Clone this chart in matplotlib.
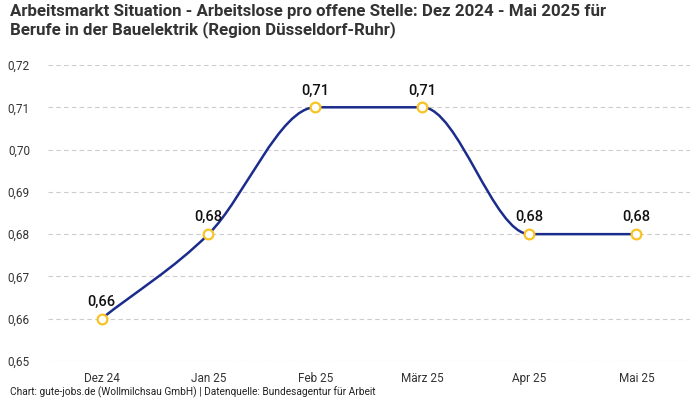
import numpy as np
import matplotlib.pyplot as plt
from matplotlib.path import Path
from matplotlib.patches import PathPatch

months = ['Dez 24', 'Jan 25', 'Feb 25', 'März 25', 'Apr 25', 'Mai 25']
values = [0.66, 0.68, 0.71, 0.71, 0.68, 0.68]
y_ticks = [0.65, 0.66, 0.67, 0.68, 0.69, 0.70, 0.71, 0.72]

title = ('Arbeitsmarkt Situation - Arbeitslose pro offene Stelle: Dez 2024 - Mai 2025 für\n'
         'Berufe in der Bauelektrik (Region Düsseldorf-Ruhr)')
source = 'Chart: gute-jobs.de (Wollmilchsau GmbH) | Datenquelle: Bundesagentur für Arbeit'

LINE = '#1b2c8c'
DOT = '#f7c325'
plt.rcParams['font.family'] = ['Roboto', 'DejaVu Sans']


def monotone_path(x, y):
    # monotone cubic (Fritsch-Carlson) drawn as bezier segments
    x = np.asarray(x, float)
    y = np.asarray(y, float)
    d = np.diff(y) / np.diff(x)
    m = np.zeros_like(y)
    m[0], m[-1] = d[0], d[-1]
    for i in range(1, len(y) - 1):
        m[i] = 0 if d[i - 1] * d[i] <= 0 else (d[i - 1] + d[i]) / 2
    for i in range(len(d)):
        if d[i] == 0:
            m[i] = m[i + 1] = 0
            continue
        a, b = m[i] / d[i], m[i + 1] / d[i]
        s = a * a + b * b
        if s > 9:
            t = 3 / np.sqrt(s)
            m[i], m[i + 1] = t * a * d[i], t * b * d[i]
    verts = [(x[0], y[0])]
    codes = [Path.MOVETO]
    for i in range(len(d)):
        h = (x[i + 1] - x[i]) / 3
        verts += [(x[i] + h, y[i] + m[i] * h),
                  (x[i + 1] - h, y[i + 1] - m[i + 1] * h),
                  (x[i + 1], y[i + 1])]
        codes += [Path.CURVE4] * 3
    return Path(verts, codes)


fig = plt.figure(figsize=(7, 4), dpi=100)
ax = fig.add_axes([0.0686, 0.0975, 0.917, 0.74])

xs = np.arange(len(months))
ax.add_patch(PathPatch(monotone_path(xs, values), facecolor='none',
                       edgecolor=LINE, lw=1.8, zorder=3))
ax.plot(xs, values, 'o', ms=7, mfc='white', mec=DOT, mew=1.6, zorder=4)
for x, v in zip(xs, values):
    ax.annotate(f'{v:.2f}'.replace('.', ','), (x, v), xytext=(0, 7),
                textcoords='offset points', ha='center', va='bottom',
                fontsize=10.5, fontweight='medium', color='#111111')

ax.set_xlim(-0.5, 5.5)
ax.set_ylim(0.65, 0.72)
ax.set_yticks(y_ticks)
ax.set_yticklabels([f'{t:.2f}'.replace('.', ',') for t in y_ticks])
ax.set_xticks(xs)
ax.set_xticklabels(months)
ax.tick_params(length=0, labelsize=8.5, colors='#333333')
ax.tick_params(axis='y', pad=13)
ax.tick_params(axis='x', pad=8)
ax.grid(axis='y', color='#cccccc', ls=(0, (4, 3)), lw=0.8)
for s in ax.spines.values():
    s.set_visible(False)

fig.text(0.014, 0.99, title, ha='left', va='top', fontsize=12.2,
         fontweight='bold', color='#333333', linespacing=1.15)
fig.text(0.014, 0.006, source, ha='left', va='bottom', fontsize=7.3,
         color='#222222')

fig.savefig('out.png', dpi=100)
